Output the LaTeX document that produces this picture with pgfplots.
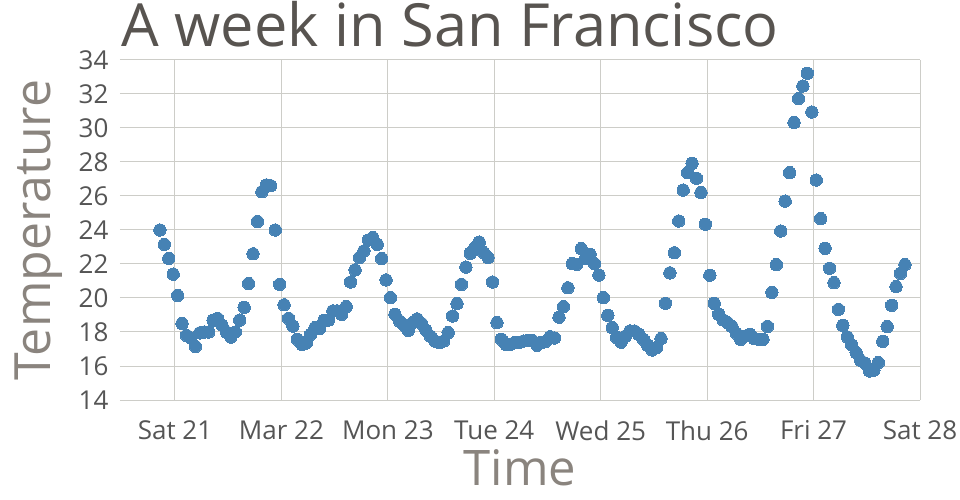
\documentclass[border=0pt]{standalone}
\usepackage{pgfplots}
\pgfplotsset{compat=1.18}
\usepackage{pgfplotstable}
\usepackage{fontspec}
\setmainfont{Open Sans}
\definecolor{steel}{RGB}{70,130,180}
\definecolor{titlegray}{RGB}{88,84,80}
\definecolor{labelgray}{RGB}{138,132,126}
\definecolor{tickgray}{RGB}{85,85,85}
\definecolor{gridgray}{RGB}{205,205,200}
\pgfplotstableread{
t T
-3.4 24.0
-2.4 23.15
-1.4 22.33
-0.4 21.4
0.6 20.15
1.6 18.5
2.6 17.8
3.6 17.65
4.6 17.15
5.6 17.95
6.6 18.0
7.6 18.0
8.6 18.7
9.6 18.8
10.6 18.4
11.6 18.0
12.6 17.7
13.6 18.0
14.6 18.7
15.6 19.45
16.6 20.85
17.6 22.6
18.6 24.5
19.6 26.25
20.6 26.65
21.6 26.6
22.6 24.0
23.6 20.8
24.6 19.6
25.6 18.8
26.6 18.35
27.6 17.57
28.6 17.28
29.6 17.35
30.6 17.86
31.6 18.26
32.6 18.2
33.6 18.69
34.6 18.7
35.6 19.24
36.6 19.24
37.6 19.04
38.6 19.49
39.6 20.94
40.6 21.65
41.6 22.38
42.6 22.77
43.6 23.41
44.6 23.55
45.6 23.16
46.6 22.32
47.6 21.06
48.6 20.02
49.6 19.04
50.6 18.65
51.6 18.4
52.6 18.1
53.6 18.55
54.6 18.77
55.6 18.5
56.6 18.1
57.6 17.75
58.6 17.47
59.6 17.38
60.6 17.47
61.6 17.96
62.6 18.94
63.6 19.67
64.6 20.8
65.6 21.82
66.6 22.63
67.6 22.96
68.6 23.29
69.6 22.67
70.6 22.38
71.6 20.94
72.6 18.55
73.6 17.57
74.6 17.28
75.6 17.28
76.6 17.38
77.6 17.38
78.6 17.47
79.6 17.5
80.6 17.5
81.6 17.22
82.6 17.38
83.6 17.45
84.6 17.72
85.6 17.65
86.6 18.87
87.6 19.49
88.6 20.6
89.6 22.02
90.6 21.98
91.6 22.9
92.6 22.32
93.6 22.57
94.6 22.02
95.6 21.35
96.6 20.02
97.6 18.98
98.6 18.26
99.6 17.67
100.6 17.4
101.6 17.76
102.6 18.06
103.6 18.06
104.6 17.86
105.6 17.57
106.6 17.22
107.6 16.94
108.6 17.08
109.6 17.61
110.6 19.69
111.6 21.48
112.6 22.66
113.6 24.53
114.6 26.35
115.6 27.37
116.6 27.92
117.6 27.04
118.6 26.2
119.6 24.34
120.6 21.34
121.6 19.69
122.6 19.04
123.6 18.71
124.6 18.55
125.6 18.32
126.6 17.92
127.6 17.57
128.6 17.76
129.6 17.86
130.6 17.61
131.6 17.57
132.6 17.57
133.6 18.33
134.6 20.33
135.6 21.96
136.6 23.94
137.6 25.7
138.6 27.37
139.6 30.32
140.6 31.73
141.6 32.47
142.6 33.22
143.6 30.94
144.6 26.94
145.6 24.67
146.6 22.92
147.6 21.75
148.6 20.9
149.6 19.33
150.6 18.39
151.6 17.71
152.6 17.24
153.6 16.79
154.6 16.33
155.6 16.16
156.6 15.71
157.6 15.76
158.6 16.2
159.6 17.45
160.6 18.32
161.6 19.57
162.6 20.67
163.6 21.45
164.6 21.96
}\sfdata
\begin{document}
\begin{tikzpicture}
\useasboundingbox (-120pt,-100pt) rectangle (840pt,400pt);
\begin{axis}[
  width=800pt, height=340pt, scale only axis,
  xmin=-12.4, xmax=168, ymin=14, ymax=34,
  xtick={0,24,48,72,96,120,144,168},
  xticklabels={Sat 21,Mar 22,Mon 23,Tue 24,Wed 25,Thu 26,Fri 27,Sat 28},
  ytick={14,16,...,34},
  /pgf/number format/assume math mode=true,
  grid=major,
  major grid style={draw=gridgray, line width=1pt},
  axis line style={draw=none},
  major tick length=0pt,
  tick style={draw=none},
  ticklabel style={font=\fontsize{26}{31}\selectfont, text=tickgray},
  xticklabel style={yshift=-17pt},
  yticklabel style={xshift=-8pt},
  title={A week in San Francisco},
  title style={at={(axis description cs:0,1)}, anchor=base west, yshift=7pt, xshift=-2pt,
    font=\fontsize{59.5}{68}\selectfont, text=titlegray},
  xlabel={Time},
  xlabel style={at={(axis description cs:0.5,-0.25)}, anchor=base,
    font=\fontsize{49}{56}\selectfont, text=labelgray},
  ylabel={Temperature},
  ylabel style={at={(axis description cs:-0.0875,0.5)}, anchor=base,
    font=\fontsize{50}{58}\selectfont, text=labelgray},
]
\addplot[only marks, mark=*, mark size=6.2pt,
  mark options={fill=steel, draw=steel, line width=0pt}] table[x=t,y=T] {\sfdata};
\end{axis}
\end{tikzpicture}
\end{document}
